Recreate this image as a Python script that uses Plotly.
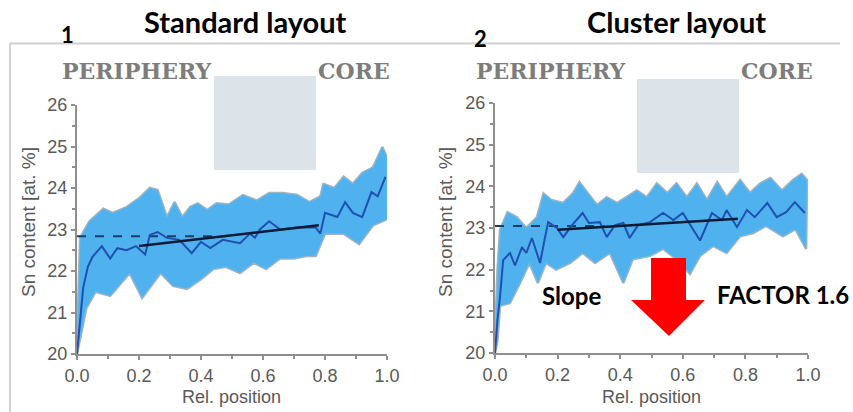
import plotly.graph_objects as go

W, H = 853, 412

# ---------------- data ----------------
# Panel 1: Standard layout
std_mean_x = [0, 0.01, 0.02, 0.035, 0.05, 0.08, 0.107, 0.13, 0.16, 0.19, 0.22, 0.235, 0.26, 0.29,
              0.33, 0.37, 0.40, 0.43, 0.47, 0.526, 0.558, 0.574, 0.59, 0.62, 0.655, 0.71, 0.77,
              0.785, 0.80, 0.84, 0.865, 0.89, 0.92, 0.95, 0.97, 0.995]
std_mean_y = [20, 20.8, 21.6, 22.1, 22.34, 22.6, 22.3, 22.55, 22.5, 22.6, 22.4, 22.87, 22.94, 22.8,
              22.75, 22.43, 22.7, 22.55, 22.75, 22.67, 22.9, 22.8, 23.0, 23.2, 23.0, 23.05, 23.05,
              22.9, 23.4, 23.3, 23.66, 23.4, 23.3, 23.9, 23.8, 24.27]
std_up_x = [0, 0.01, 0.04, 0.085, 0.115, 0.16, 0.2, 0.235, 0.26, 0.29, 0.315, 0.34, 0.365, 0.39,
            0.42, 0.45, 0.49, 0.535, 0.58, 0.62, 0.665, 0.71, 0.75, 0.785, 0.795, 0.83, 0.86,
            0.89, 0.92, 0.955, 0.985, 1.0]
std_up_y = [20.3, 22.8, 23.2, 23.5, 23.4, 23.54, 23.75, 24.0, 23.95, 23.3, 23.66, 23.3, 23.54, 23.63,
            23.47, 23.63, 23.6, 23.83, 23.7, 23.88, 23.88, 23.83, 23.66, 23.8, 24.1, 24.0, 24.27,
            24.1, 24.36, 24.5, 24.99, 24.75]
std_lo_x = [0, 0.01, 0.03, 0.06, 0.107, 0.17, 0.21, 0.27, 0.31, 0.355, 0.40, 0.44, 0.48, 0.526,
            0.57, 0.61, 0.655, 0.70, 0.74, 0.77, 0.80, 0.86, 0.91, 0.955, 1.0]
std_lo_y = [20, 20.4, 21.1, 21.5, 21.4, 21.95, 21.35, 21.95, 21.64, 21.57, 21.8, 22.05, 22.1, 21.95,
            22.2, 22.05, 22.3, 22.3, 22.36, 22.36, 22.9, 22.9, 22.65, 23.1, 23.25]
std_dash_x = [0, 0.48]
std_dash_y = [22.84, 22.84]
std_fit_x = [0.2, 0.78]
std_fit_y = [22.6, 23.1]

# Panel 2: Cluster layout
clu_mean_x = [0, 0.008, 0.016, 0.026, 0.048, 0.064, 0.086, 0.10, 0.118, 0.144, 0.16, 0.17, 0.198,
              0.218, 0.246, 0.28, 0.30, 0.335, 0.357, 0.383, 0.41, 0.43, 0.457, 0.495, 0.537, 0.57,
              0.60, 0.655, 0.693, 0.725, 0.74, 0.773, 0.805, 0.83, 0.87, 0.90, 0.93, 0.958, 0.99]
clu_mean_y = [20, 20.8, 21.34, 22.23, 22.4, 22.1, 22.54, 22.4, 22.76, 22.16, 22.78, 23.14, 23.0,
              22.78, 23.07, 23.36, 23.12, 23.14, 22.78, 23.07, 23.12, 22.76, 23.07, 23.14, 23.36, 23.19,
              23.36, 22.7, 23.36, 23.19, 23.43, 23.02, 23.43, 23.26, 23.6, 23.26, 23.38, 23.62, 23.36]
clu_up_x = [0, 0.008, 0.016, 0.04, 0.07, 0.10, 0.134, 0.155, 0.18, 0.218, 0.25, 0.27, 0.29, 0.326,
            0.357, 0.39, 0.42, 0.453, 0.485, 0.517, 0.55, 0.58, 0.613, 0.645, 0.677, 0.71, 0.74,
            0.783, 0.815, 0.847, 0.88, 0.917, 0.952, 0.98, 0.997]
clu_up_y = [20.3, 22.0, 22.95, 23.38, 23.26, 23.0, 23.26, 23.83, 23.67, 23.6, 23.84, 24.1, 23.9, 23.55,
            23.74, 23.6, 23.74, 23.9, 23.74, 24.07, 23.84, 24.07, 23.74, 24.07, 23.67, 24.1, 23.74,
            24.15, 23.84, 24.07, 24.2, 23.9, 24.15, 24.3, 24.15]
clu_lo_x = [0, 0.008, 0.016, 0.048, 0.08, 0.11, 0.137, 0.163, 0.195, 0.24, 0.28, 0.32, 0.367, 0.41,
            0.44, 0.495, 0.537, 0.58, 0.623, 0.655, 0.697, 0.74, 0.783, 0.825, 0.866, 0.92, 0.96, 0.994]
clu_lo_y = [20, 20.3, 21.13, 21.2, 21.68, 22.16, 21.68, 22.16, 22.0, 22.16, 22.4, 22.16, 22.4, 21.68,
            22.25, 22.33, 22.5, 22.25, 21.9, 22.33, 22.57, 22.4, 22.8, 22.88, 23.05, 22.8, 22.97, 22.5]
clu_dash_x = [0, 0.35]
clu_dash_y = [23.05, 23.05]
clu_fit_x = [0.2, 0.776]
clu_fit_y = [22.96, 23.22]

x_ticks = [0, 0.2, 0.4, 0.6, 0.8, 1.0]
x_tick_text = ["0.0", "0.2", "0.4", "0.6", "0.8", "1.0"]
y_ticks = [20, 21, 22, 23, 24, 25, 26]

# ---------------- helpers ----------------
def X(px):
    return px / W

def Y(py):
    return 1 - py / H

fig = go.Figure()

def add_panel(xa, ya, up_x, up_y, lo_x, lo_y, m_x, m_y, d_x, d_y, f_x, f_y):
    bx = up_x + lo_x[::-1]
    by = up_y + lo_y[::-1]
    fig.add_trace(go.Scatter(x=bx, y=by, xaxis=xa, yaxis=ya, fill="toself", mode="lines",
                             fillcolor="#cfe9f8", line=dict(color="#b0b0b0", width=2.5),
                             hoverinfo="skip", showlegend=False))
    fig.add_trace(go.Scatter(x=bx, y=by, xaxis=xa, yaxis=ya, fill="toself", mode="lines",
                             fillcolor="#4fb2ee", line=dict(color="#6cc0f2", width=0.5),
                             hoverinfo="skip", showlegend=False))
    fig.add_trace(go.Scatter(x=d_x, y=d_y, xaxis=xa, yaxis=ya, mode="lines",
                             line=dict(color="#1d3f66", width=2, dash="dash"), showlegend=False))
    fig.add_trace(go.Scatter(x=m_x, y=m_y, xaxis=xa, yaxis=ya, mode="lines",
                             line=dict(color="#1f50b0", width=2), showlegend=False))
    fig.add_trace(go.Scatter(x=f_x, y=f_y, xaxis=xa, yaxis=ya, mode="lines",
                             line=dict(color="#0b1a33", width=2.5), showlegend=False))

add_panel("x", "y", std_up_x, std_up_y, std_lo_x, std_lo_y, std_mean_x, std_mean_y,
          std_dash_x, std_dash_y, std_fit_x, std_fit_y)
add_panel("x2", "y2", clu_up_x, clu_up_y, clu_lo_x, clu_lo_y, clu_mean_x, clu_mean_y,
          clu_dash_x, clu_dash_y, clu_fit_x, clu_fit_y)

tick_font = dict(family="Liberation Sans, Arial, sans-serif", size=18, color="#595959")
axis_common = dict(showline=True, linecolor="#8f8f8f", linewidth=2, ticks="outside", ticklen=4,
                   tickwidth=1.5, tickcolor="#8f8f8f", showgrid=False, zeroline=False,
                   tickfont=tick_font, fixedrange=True, automargin=False)

fig.update_layout(
    template="none",
    width=W, height=H, margin=dict(l=0, r=0, t=0, b=0, pad=0, autoexpand=False),
    paper_bgcolor="white", plot_bgcolor="rgba(0,0,0,0)",
    xaxis=dict(domain=[X(77), X(387)], range=[0, 1], tickvals=x_ticks, ticktext=x_tick_text,
               minor=dict(ticks="outside", ticklen=3, dtick=0.1, tickcolor="#8f8f8f"),
               anchor="y", **axis_common),
    yaxis=dict(domain=[Y(354), Y(105)], range=[20, 26], tickvals=y_ticks,
               minor=dict(ticks="outside", ticklen=3, dtick=0.5, tickcolor="#8f8f8f"),
               anchor="x", **axis_common),
    xaxis2=dict(domain=[X(495), X(808)], range=[0, 1], tickvals=x_ticks, ticktext=x_tick_text,
                minor=dict(ticks="outside", ticklen=3, dtick=0.1, tickcolor="#8f8f8f"),
                anchor="y2", **axis_common),
    yaxis2=dict(domain=[Y(353), Y(103)], range=[20, 26], tickvals=y_ticks,
                minor=dict(ticks="outside", ticklen=3, dtick=0.5, tickcolor="#8f8f8f"),
                anchor="x2", **axis_common),
)

shapes = []
# frame lines
shapes.append(dict(type="line", xref="paper", yref="paper", x0=X(10), x1=X(840), y0=Y(43.5), y1=Y(43.5),
                   line=dict(color="#d0d0d0", width=2)))
shapes.append(dict(type="line", xref="paper", yref="paper", x0=X(10), x1=X(10), y0=Y(43.5), y1=Y(412),
                   line=dict(color="#d0d0d0", width=2)))
# gray boxes
shapes.append(dict(type="rect", xref="paper", yref="paper", x0=X(214), x1=X(316), y0=Y(170), y1=Y(76),
                   fillcolor="#dce4ea", line=dict(width=0), layer="above"))
shapes.append(dict(type="rect", xref="paper", yref="paper", x0=X(637), x1=X(739), y0=Y(173), y1=Y(79),
                   fillcolor="#dce4ea", line=dict(width=0), layer="above"))
# red arrow
pts = [(651, 258), (686, 258), (686, 300), (705, 300), (669, 336), (631, 300), (651, 300)]
path = "M " + " L ".join(f"{X(a):.5f},{Y(b):.5f}" for a, b in pts) + " Z"
shapes.append(dict(type="path", xref="paper", yref="paper", path=path, fillcolor="#ff0000",
                   line=dict(width=0), layer="above"))
fig.update_layout(shapes=shapes)

ann = []
def text(px, py, s, size, color="#000", family="Lato, sans-serif", angle=0, xanchor="center"):
    ann.append(dict(x=X(px), y=Y(py), xref="paper", yref="paper", text=s, showarrow=False,
                    font=dict(family=family, size=size, color=color), textangle=angle,
                    xanchor=xanchor, yanchor="middle"))

text(245, 22, "<b>Standard layout</b>", 29)
text(676, 22, "<b>Cluster layout</b>", 29)
text(67, 35, "<b>1</b>", 22)
text(480, 39, "<b>2</b>", 22)
serif = "DejaVu Serif, serif"
text(137, 71, "<b>PERIPHERY</b>", 22, "#7d7d7d", serif)
text(354, 71, "<b>CORE</b>", 22, "#7d7d7d", serif)
text(551, 71, "<b>PERIPHERY</b>", 22, "#7d7d7d", serif)
text(777, 71, "<b>CORE</b>", 22, "#7d7d7d", serif)
lab = "Liberation Sans, Arial, sans-serif"
text(231, 397, "Rel. position", 18, "#595959", lab)
text(651, 397, "Rel. position", 18, "#595959", lab)
text(28, 222, "Sn content [at. %]", 19, "#595959", lab, angle=-90)
text(445, 222, "Sn content [at. %]", 19, "#595959", lab, angle=-90)
text(571, 295, "<b>Slope</b>", 24)
text(783, 294, "<b>FACTOR 1.6</b>", 24)
fig.update_layout(annotations=ann)

fig.write_html("out.html", post_script="document.body.style.margin='0';document.body.style.padding='0';")
